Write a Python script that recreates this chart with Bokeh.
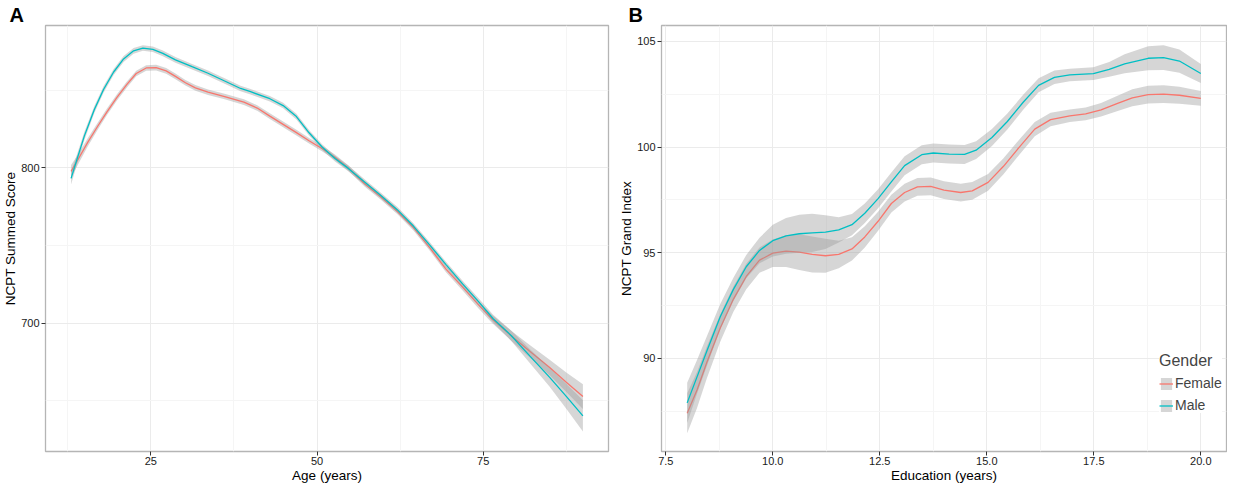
import numpy as np
from bokeh.plotting import figure
from bokeh.layouts import row
from bokeh.models import Range1d, FixedTicker, Legend, LegendItem, NumeralTickFormatter
from bokeh.embed import file_html
from bokeh.resources import INLINE

# ---------------- Panel A: NCPT Summed Score vs Age ----------------
age_female = [13.0, 14.0, 15.5, 17.0, 18.4, 19.9, 21.4, 22.8, 24.3, 25.8,
              27.3, 28.7, 30.2, 31.7, 33.6, 36.1, 39.0, 41.0, 42.9, 44.9,
              46.9, 48.8, 50.8, 52.7, 54.7, 57.2, 59.6, 62.1, 64.5, 67.0,
              69.4, 71.9, 74.3, 76.3, 79.2, 82.0, 85.0, 87.5, 90.0]
score_female = [797.7, 805.0, 816.3, 826.7, 836.0, 845.3, 853.6, 860.6, 864.2, 864.4,
                862.3, 858.8, 854.7, 851.4, 848.6, 845.8, 842.2, 838.4, 833.2, 827.9,
                822.6, 817.4, 812.2, 806.8, 799.8, 789.6, 781.2, 771.9, 761.5, 748.3,
                734.8, 723.2, 711.8, 702.9, 692.0, 682.0, 671.5, 662.0, 652.8]
score_female_hw = [4.0, 3.2, 2.6, 2.3, 2.1, 2.0, 1.9, 1.8, 1.8, 1.8,
                   1.8, 1.8, 1.8, 1.8, 1.8, 1.8, 1.8, 1.8, 1.8, 1.8,
                   1.8, 1.8, 1.8, 1.8, 1.8, 1.8, 1.8, 1.8, 1.8, 1.9,
                   2.0, 2.1, 2.3, 2.6, 3.2, 4.0, 5.0, 6.3, 8.0]

age_male = [13.0, 14.0, 15.0, 16.5, 17.9, 19.4, 20.9, 22.4, 23.8, 25.3,
            26.8, 28.7, 31.2, 33.6, 36.1, 38.5, 40.0, 42.9, 44.9, 46.9,
            48.8, 50.8, 52.7, 54.7, 57.2, 59.6, 62.1, 64.5, 67.0, 69.4,
            71.9, 74.3, 76.5, 79.2, 82.0, 85.0, 87.5, 90.0]
score_male = [793.2, 807.0, 820.5, 837.5, 850.5, 861.6, 870.0, 875.2, 877.0, 876.2,
              873.6, 869.4, 865.0, 860.8, 855.8, 851.0, 848.9, 844.4, 840.0, 832.9,
              822.5, 813.2, 805.9, 799.6, 790.7, 782.2, 772.9, 762.5, 750.1, 737.7,
              725.3, 713.9, 702.9, 692.1, 679.0, 665.2, 653.0, 640.4]
score_male_hw = [4.0, 3.2, 2.6, 2.3, 2.1, 2.0, 1.9, 1.8, 1.8, 1.8,
                 1.8, 1.8, 1.8, 1.8, 1.8, 1.8, 1.8, 1.8, 1.8, 1.8,
                 1.8, 1.8, 1.8, 1.8, 1.8, 1.8, 1.8, 1.8, 1.8, 1.8,
                 2.0, 2.2, 2.5, 3.3, 4.5, 6.0, 8.0, 10.0]

age_ticks = [25, 50, 75]
age_minor = [12.5, 37.5, 62.5, 87.5]
score_ticks = [700, 800]
score_minor = [650, 750, 850]

# ---------------- Panel B: NCPT Grand Index vs Education ----------------
edu_female = [8.0, 8.23, 8.46, 8.77, 9.08, 9.38, 9.69, 10.0, 10.31, 10.62,
              10.92, 11.23, 11.54, 11.85, 12.15, 12.46, 12.77, 13.08, 13.38, 13.69,
              14.0, 14.39, 14.66, 15.03, 15.39, 15.76, 16.12, 16.49, 16.94, 17.31,
              17.67, 18.04, 18.4, 18.77, 19.13, 19.5, 20.0]
index_female = [87.41, 88.51, 89.82, 91.43, 92.81, 93.88, 94.65, 94.98, 95.08, 95.03,
                94.92, 94.86, 94.92, 95.18, 95.75, 96.49, 97.33, 97.85, 98.12, 98.14,
                97.96, 97.85, 97.93, 98.33, 99.09, 100.0, 100.85, 101.3, 101.48, 101.57,
                101.76, 102.05, 102.33, 102.48, 102.5, 102.45, 102.3]
index_female_hw = [0.95, 0.85, 0.75, 0.65, 0.6, 0.6, 0.6, 0.65, 0.75, 0.85,
                   0.85, 0.8, 0.65, 0.55, 0.5, 0.45, 0.42, 0.42, 0.42, 0.42,
                   0.42, 0.42, 0.42, 0.4, 0.38, 0.36, 0.34, 0.32, 0.3, 0.3,
                   0.32, 0.36, 0.4, 0.42, 0.42, 0.4, 0.35]

edu_male = [8.0, 8.23, 8.46, 8.77, 9.08, 9.38, 9.69, 10.0, 10.31, 10.62,
            10.92, 11.23, 11.54, 11.85, 12.15, 12.46, 12.77, 13.08, 13.48, 13.75,
            14.12, 14.48, 14.75, 15.12, 15.48, 15.85, 16.21, 16.58, 16.94, 17.49,
            17.86, 18.22, 18.77, 19.13, 19.5, 20.0]
index_male = [87.9, 89.13, 90.35, 91.96, 93.27, 94.34, 95.11, 95.57, 95.8, 95.9,
              95.94, 95.98, 96.08, 96.33, 96.87, 97.56, 98.35, 99.12, 99.64, 99.72,
              99.67, 99.65, 99.85, 100.45, 101.21, 102.12, 102.92, 103.3, 103.41, 103.47,
              103.67, 103.94, 104.2, 104.23, 104.07, 103.48]
index_male_hw = [0.95, 0.8, 0.7, 0.6, 0.55, 0.55, 0.6, 0.75, 0.85, 0.9,
                 0.9, 0.8, 0.6, 0.5, 0.46, 0.45, 0.45, 0.45, 0.45, 0.45,
                 0.45, 0.45, 0.42, 0.4, 0.38, 0.35, 0.33, 0.32, 0.3, 0.3,
                 0.35, 0.45, 0.57, 0.58, 0.55, 0.45]

edu_ticks = [7.5, 10.0, 12.5, 15.0, 17.5, 20.0]
edu_minor = [8.75, 11.25, 13.75, 16.25, 18.75]
index_ticks = [90, 95, 100, 105]
index_minor = [87.5, 92.5, 97.5, 102.5]

groups = ["Female", "Male"]

FONT = "Liberation Sans"
RED = "#F8766D"
TEAL = "#00BFC4"
BAND = "#999999"
H = 485
TOP = 25
BOTTOM = 32
LEFT = 44


def make_fig(width, right, xr, yr, xt, xm, yt, ym, xlabel, ylabel, letter, letter_dx):
    p = figure(width=width, height=H, x_range=Range1d(*xr), y_range=Range1d(*yr),
               output_backend="svg", toolbar_location=None, tools="", title=letter,
               min_border_left=LEFT, min_border_right=right,
               min_border_top=TOP, min_border_bottom=BOTTOM)
    p.title.text_font = FONT
    p.title.text_font_size = "20px"
    p.title.text_font_style = "bold"
    p.title.text_color = "#000000"
    p.title.align = "left"
    p.title.offset = letter_dx
    p.title.standoff = 0
    p.background_fill_color = "white"
    p.border_fill_color = "white"
    p.outline_line_color = "#B5B5B5"
    p.outline_line_width = 1.3
    p.xaxis.ticker = FixedTicker(ticks=xt, minor_ticks=xm)
    p.yaxis.ticker = FixedTicker(ticks=yt, minor_ticks=ym)
    p.xaxis.axis_label = xlabel
    p.yaxis.axis_label = ylabel
    for ax in (p.xaxis[0], p.yaxis[0]):
        ax.axis_line_color = None
        ax.major_tick_line_color = "#333333"
        ax.major_tick_out = 4
        ax.major_tick_in = 0
        ax.minor_tick_line_color = None
        ax.major_label_text_font = FONT
        ax.major_label_text_font_size = "11px"
        ax.major_label_text_color = "#1A1A1A"
        ax.major_label_standoff = 2
        ax.axis_label_text_font = FONT
        ax.axis_label_text_font_size = "13.5px"
        ax.axis_label_text_font_style = "normal"
        ax.axis_label_text_color = "#000000"
        ax.axis_label_standoff = 0
    p.xaxis[0].major_label_standoff = 1
    p.grid.grid_line_color = "#EBEBEB"
    p.grid.grid_line_width = 1
    p.grid.minor_grid_line_color = "#F5F5F5"
    return p


def draw(p, x, y, hw, color):
    y = np.asarray(y, dtype=float)
    hw = np.asarray(hw, dtype=float)
    band = p.varea(x=x, y1=y - hw, y2=y + hw, fill_color=BAND, fill_alpha=0.4)
    line = p.line(x, y, line_color=color, line_width=1.3)
    return band, line


pA = make_fig(616, 8, (9.15, 93.85), (617.5, 891.5),
              age_ticks, age_minor, score_ticks, score_minor,
              "Age (years)", "NCPT Summed Score", "A", 8 - LEFT)
draw(pA, age_female, score_female, score_female_hw, RED)
draw(pA, age_male, score_male, score_male_hw, TEAL)

pB = make_fig(611, 1, (7.4, 20.6), (85.6, 105.75),
              edu_ticks, edu_minor, index_ticks, index_minor,
              "Education (years)", "NCPT Grand Index", "B", 627 - 616 - LEFT)
pB.xaxis[0].formatter = NumeralTickFormatter(format="0.0")
bf, lf = draw(pB, edu_female, index_female, index_female_hw, RED)
bm, lm = draw(pB, edu_male, index_male, index_male_hw, TEAL)

legend = Legend(items=[LegendItem(label=groups[0], renderers=[bf, lf]),
                       LegendItem(label=groups[1], renderers=[bm, lm])],
                location=(498, 38))
legend.title = "Gender"
legend.title_text_font = FONT
legend.title_text_font_size = "16px"
legend.title_text_font_style = "normal"
legend.title_standoff = 5
legend.label_text_font = FONT
legend.label_text_font_size = "14px"
legend.label_standoff = 2
legend.label_height = 15
legend.glyph_width = 14
legend.glyph_height = 15
legend.spacing = 6
legend.padding = 4
legend.margin = 0
legend.border_line_color = None
legend.background_fill_color = "white"
legend.background_fill_alpha = 1.0
pB.add_layout(legend)

layout = row(pA, pB)
open("out.html", "w").write(file_html(layout, INLINE))
